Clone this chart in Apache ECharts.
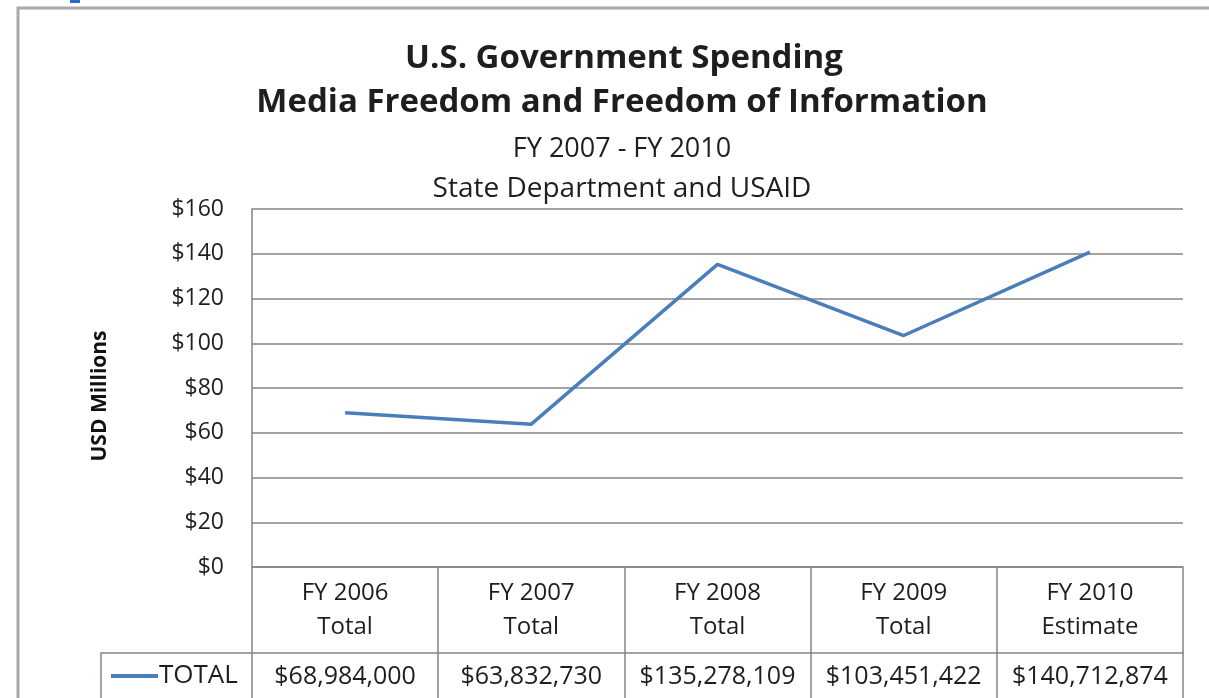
<!DOCTYPE html>
<html>
<head>
<meta charset="utf-8">
<script src="https://cdn.jsdelivr.net/npm/echarts@6/dist/echarts.min.js"></script>
<style>
html,body{margin:0;padding:0;background:#fff;}
#c{width:1209px;height:698px;}
</style>
</head>
<body>
<div id="c"></div>
<script>
const years = ['FY 2006', 'FY 2007', 'FY 2008', 'FY 2009', 'FY 2010'];
const kinds = ['Total', 'Total', 'Total', 'Total', 'Estimate'];
const totals = [68984000, 63832730, 135278109, 103451422, 140712874];
const seriesName = 'TOTAL';
const yTicks = [0, 20, 40, 60, 80, 100, 120, 140, 160];
const titles = ['U.S. Government Spending', 'Media Freedom and Freedom of Information', 'FY 2007 - FY 2010', 'State Department and USAID'];

const FONT = '"Open Sans", sans-serif';
const GRID = '#858585';
const TXT = '#1e1e1e';
const millions = totals.map(v => v / 1e6);
const money = v => '$' + v.toLocaleString('en-US');
const cats = years.map((y, i) => y + '\n' + kinds[i]);

const chart = echarts.init(document.getElementById('c'));
chart.setOption({
  animation: false,
  backgroundColor: '#fff',
  title: [
    {text: titles[0], left: 619, top: 37, textAlign: 'center', textStyle: {fontFamily: FONT, fontSize: 33, fontWeight: 'bold', color: TXT}},
    {text: titles[1], left: 617, top: 81, textAlign: 'center', textStyle: {fontFamily: FONT, fontSize: 33, fontWeight: 'bold', color: TXT}},
    {text: titles[2], left: 617, top: 131, textAlign: 'center', textStyle: {fontFamily: FONT, fontSize: 27, fontWeight: 'normal', color: TXT}},
    {text: titles[3], left: 617, top: 170, textAlign: 'center', textStyle: {fontFamily: FONT, fontSize: 28, fontWeight: 'normal', color: TXT}}
  ],
  legend: {
    left: 106, top: 658, itemWidth: 47, itemHeight: 4, itemGap: 0,
    icon: 'rect',
    data: [seriesName],
    textStyle: {fontFamily: FONT, fontSize: 26, color: TXT, padding: [0, 0, 0, -4]}
  },
  grid: {left: 252, right: 26, top: 209, bottom: 131, containLabel: false},
  xAxis: [
    {
      type: 'category', data: cats, boundaryGap: true, position: 'bottom',
      axisLine: {show: true, lineStyle: {color: GRID, width: 1.5}},
      axisTick: {show: true, interval: 0, alignWithLabel: false, inside: false, length: 131, lineStyle: {color: GRID, width: 1.5}},
      axisLabel: {interval: 0, margin: 9, fontFamily: FONT, fontSize: 24, color: TXT, lineHeight: 34},
      splitLine: {show: false}
    },
    {
      type: 'category', data: totals.map(money), boundaryGap: true, position: 'bottom', offset: 86,
      axisLine: {show: true, lineStyle: {color: GRID, width: 1.5}},
      axisTick: {show: false},
      axisLabel: {interval: 0, margin: 11, fontFamily: FONT, fontSize: 25, color: TXT},
      splitLine: {show: false}
    }
  ],
  yAxis: {
    type: 'value', min: 0, max: 160, interval: 20,
    name: 'USD Millions', nameLocation: 'middle', nameRotate: 90, nameGap: 141,
    nameTextStyle: {fontFamily: FONT, fontSize: 21, fontWeight: 'bold', color: '#111', padding: [0, 16, 0, 0]},
    axisLine: {show: true, lineStyle: {color: GRID, width: 1.5}},
    axisTick: {show: false},
    axisLabel: {margin: 28, fontFamily: FONT, fontSize: 23, color: TXT, formatter: v => yTicks.includes(v) ? '$' + v : ''},
    splitLine: {show: true, lineStyle: {color: GRID, width: 1.5}}
  },
  series: [{
    name: seriesName, type: 'line', xAxisIndex: 0, data: millions,
    symbol: 'none', smooth: false,
    lineStyle: {color: '#4a7ebb', width: 3.5},
    itemStyle: {color: '#4a7ebb'}
  }],
  graphic: [
    {type: 'rect', shape: {x: 18, y: 8, width: 1250, height: 760}, style: {fill: 'none', stroke: '#a9a9a9', lineWidth: 3}, silent: true},
    {type: 'polyline', shape: {points: [[101, 698], [101, 653], [252, 653]]}, style: {fill: 'none', stroke: GRID, lineWidth: 1.5}, silent: true},
    {type: 'rect', shape: {x: 70, y: 0, width: 10, height: 3}, style: {fill: '#2a6ac8'}, silent: true}
  ]
});
</script>
</body>
</html>
